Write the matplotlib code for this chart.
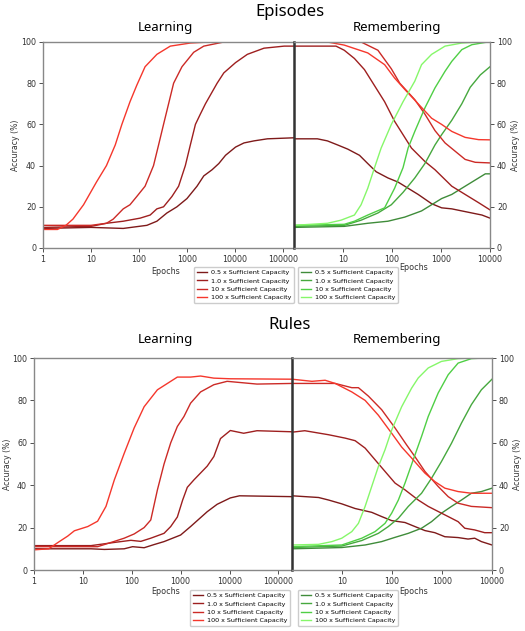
import numpy as np
import matplotlib
matplotlib.use('Agg')
from matplotlib import pyplot as plt

# capacity labels and colours
capacities = ['0.5', '1.0', '10', '100']
red_cols = ['#7e1a1a', '#9e1f1f', '#cc2a26', '#f5372c']
green_cols = ['#3f8c3a', '#46a83e', '#4fcf45', '#86f76a']

# ---- Episodes: learning (epochs, accuracy) ----
ep_learn_05 = [(1, 9.5), (10, 10), (47, 9.5), (100, 10.5), (146, 11), (236, 13), (382, 17), (618, 20),
               (1000, 24), (1620, 30), (2240, 35), (3340, 38), (4610, 41), (6360, 45), (10300, 49),
               (15400, 51), (24900, 52), (47400, 53), (170000, 53.5)]
ep_learn_10 = [(1, 10), (10, 10.5), (21, 12), (47, 13), (106, 14.5), (171, 16), (236, 19), (325, 20),
               (486, 25), (670, 30), (925, 40), (1175, 50), (1500, 60), (1900, 65), (2425, 70),
               (4250, 80), (5860, 85), (10300, 90), (18100, 94), (40300, 97), (106000, 98), (170000, 98)]
ep_learn_100x10 = [(1, 11), (10, 11), (21, 12), (29, 14), (47, 19), (65, 21), (90, 25), (134, 30),
                   (201, 40), (256, 50), (325, 60), (414, 70), (527, 80), (787, 88), (1380, 95),
                   (2240, 98), (5860, 100), (170000, 100)]
ep_learn_100 = [(1, 9), (2, 9), (3, 11), (4.2, 14), (7, 21), (13, 32), (21, 40), (32, 50), (44, 60),
                (65, 71), (90, 79), (134, 88), (236, 94), (449, 98), (1175, 99.5), (3000, 100), (170000, 100)]

# ---- Episodes: remembering, old task (red) ----
ep_rem_05 = [(1, 53), (3, 53), (4.8, 52), (7.8, 50), (12.5, 48), (21.7, 45), (32, 41), (47.6, 37),
             (82.7, 34), (133, 32), (213, 29), (342, 26), (643, 21.5), (1030, 19.5), (1660, 19),
             (2660, 18), (4270, 17), (6850, 16), (10000, 14.5)]
ep_rem_10 = [(1, 98), (7.2, 98), (10.6, 96), (17.1, 92), (27.4, 86.6), (70.7, 71), (113, 61.5),
             (250, 48.5), (469, 42), (753, 38), (1660, 30), (3110, 26), (5850, 22), (10000, 18.5)]
ep_rem_10x = [(1, 100), (23.4, 100), (51.6, 96), (96.9, 87), (144, 80), (292, 72), (469, 65),
              (753, 57), (1210, 51), (1940, 47), (3110, 43), (5000, 41.6), (10000, 41.3)]
ep_rem_100 = [(1, 100), (4.8, 100), (10.6, 98.5), (32, 94.7), (70.7, 89), (113, 82.5), (182, 77),
              (342, 70), (643, 63), (1030, 60), (1660, 56.6), (3110, 53.7), (5850, 52.6), (10000, 52.5)]

# ---- Episodes: remembering, new task (green) ----
ep_new_05 = [(1, 10), (10.6, 10.5), (32, 12), (82.7, 13), (182, 15), (401, 18), (643, 21), (1030, 24),
             (1660, 26), (2660, 29), (4270, 32), (8020, 36), (10000, 36)]
ep_new_10 = [(1, 10.5), (10.6, 11), (23.4, 13.5), (51.6, 17), (96.9, 21), (168, 27), (292, 34),
             (469, 41), (753, 50), (1030, 55), (1660, 62), (2660, 70), (3940, 78), (6330, 84), (10000, 88)]
ep_new_10x = [(1, 11), (10.6, 11.5), (17.1, 13), (32, 16), (70.7, 19.5), (113, 29), (168, 39),
              (213, 48.5), (292, 56.6), (469, 68), (753, 77.7), (1210, 85.8), (1660, 90.6),
              (2660, 96.3), (4270, 98.7), (8020, 99.8), (10000, 100)]
ep_new_100 = [(1, 11), (4.8, 12), (9.1, 13.5), (17.1, 16), (23.4, 21), (32, 29), (44, 39), (60, 48.5),
              (97, 60), (168, 71), (292, 81), (401, 89), (643, 94), (1210, 98), (2660, 99.5),
              (5850, 100), (10000, 100)]

# ---- Rules: learning ----
ru_learn_05 = [(1, 10), (14.7, 10), (27.5, 9.7), (70, 10), (104, 11), (179, 10.5), (287, 12),
               (458, 13.4), (1000, 16.5), (1600, 20.5), (3500, 27.5), (5590, 31), (10400, 34),
               (16000, 35), (190000, 34.6)]
ru_learn_10 = [(1, 11.5), (14.7, 11.5), (44, 13), (96, 14), (153, 13.5), (245, 15), (458, 17.3),
               (627, 20.5), (857, 25), (1100, 33), (1370, 39), (1870, 42.5), (3500, 49), (4780, 53.5),
               (6540, 62), (10400, 65.8), (19500, 64.5), (36500, 65.7), (190000, 65.2)]
ru_learn_10x = [(1, 11), (20, 11), (27.5, 12), (44, 13.5), (70, 15), (112, 17), (179, 20),
                (245, 23.6), (335, 37.8), (458, 50), (627, 60), (857, 67.7), (1170, 72.4),
                (1600, 78.7), (2560, 84), (4780, 87.4), (8940, 89), (36500, 87.7), (190000, 88)]
ru_learn_100 = [(1, 9.5), (2, 10), (3.1, 13), (4.9, 16), (6.7, 18.5), (12.6, 20.5), (20, 23),
                (29.7, 30), (44, 42.5), (70, 55), (112, 67), (179, 77), (335, 85), (536, 88),
                (857, 91), (1600, 91), (2560, 91.5), (4780, 90.5), (10400, 90.2), (190000, 90)]

# ---- Rules: remembering, old task (red) ----
ru_rem_05 = [(1, 35), (3.4, 34.2), (5.4, 33), (9.9, 31.2), (18.3, 29), (39.3, 27.2), (62.2, 25.2),
             (98.5, 23.3), (182, 22.4), (287, 20.5), (455, 18.6), (720, 17.6), (1140, 15.7),
             (2100, 15.3), (3320, 14.6), (4510, 15), (6130, 13.4), (10000, 11.8)]
ru_rem_10 = [(1, 65), (1.8, 65.7), (5.4, 63.8), (11.6, 62.2), (18.3, 61), (29, 57.5), (45.8, 52),
             (72.5, 46.5), (115, 41), (182, 37.8), (335, 33), (530, 30), (839, 27.6), (1330, 25.2),
             (2100, 22.8), (2850, 19.7), (4510, 18.9), (7140, 17.6), (10000, 17.6)]
ru_rem_10x = [(1, 88), (7.3, 88), (15.7, 86), (21.3, 86), (33.8, 82), (62.2, 75.6), (115, 67),
              (196, 59), (287, 53.5), (455, 46.5), (839, 39.4), (1330, 34.6), (2100, 31.5),
              (3870, 30), (10000, 29.4)]
ru_rem_100 = [(1, 90), (2.5, 89), (4.6, 89.5), (7.3, 88), (15.7, 84), (29, 80), (53.4, 73),
              (98.5, 64.5), (156, 58), (247, 52.8), (455, 45.7), (720, 41.7), (1140, 38.6),
              (2100, 37), (3870, 36.2), (10000, 36.2)]

# ---- Rules: remembering, new task (green) ----
ru_new_05 = [(1, 10), (9.9, 10.6), (29, 11.8), (62.2, 13.4), (115, 15.4), (212, 17.3), (390, 19.7),
             (618, 22.8), (977, 26.8), (1550, 30), (2450, 33), (3870, 36.2), (6130, 37), (10000, 38.6)]
ru_new_10 = [(1, 10.6), (9.9, 11.3), (24.9, 13.9), (53.4, 17.3), (84.5, 20.5), (134, 24.4),
             (212, 30), (390, 36.2), (618, 43.3), (977, 51.2), (1550, 59.8), (2450, 69.3),
             (3870, 78), (6130, 85), (10000, 90)]
ru_new_10x = [(1, 11), (9.9, 11.8), (24.9, 15), (45.8, 18.1), (72.5, 22), (98.5, 26.8), (134, 33),
              (182, 41), (266, 52), (390, 63), (530, 72.4), (839, 83.5), (1330, 92.1), (2100, 97.6),
              (3870, 99.7), (7140, 100), (10000, 100)]
ru_new_100 = [(1, 11.8), (3.4, 12.1), (6.3, 13.4), (9.9, 15), (15.7, 18.1), (21.3, 22), (29, 30),
              (39.3, 39.4), (53.4, 48.8), (72.5, 56.7), (98.5, 66), (156, 77), (247, 85.8),
              (335, 90.6), (530, 95.3), (977, 98.4), (2100, 99.7), (3870, 100), (10000, 100)]

W, H = 525, 631
fig = plt.figure(figsize=(W / 100, H / 100), dpi=100)


def px_axes(x0, y0, x1, y1):
    return fig.add_axes([x0 / W, 1 - y1 / H, (x1 - x0) / W, (y1 - y0) / H])


def draw_panel(box_l, box_r, learn, rem, new, xmax_l, title, ty, leg_y, ylab_x, epy):
    axl = px_axes(*box_l)
    axr = px_axes(*box_r)
    red_lines, green_lines = [], []
    for i, c in enumerate(capacities):
        x, y = zip(*learn[i])
        ln, = axl.plot(x, y, color=red_cols[i], lw=1.0, label=c + ' x Sufficient Capacity')
        red_lines.append(ln)
        x, y = zip(*rem[i])
        axr.plot(x, y, color=red_cols[i], lw=1.0)
        x, y = zip(*new[i])
        ln, = axr.plot(x, y, color=green_cols[i], lw=1.0, label=c + ' x Sufficient Capacity')
        green_lines.append(ln)

    for ax in (axl, axr):
        ax.set_xscale('log')
        ax.set_ylim(0, 100)
        ax.minorticks_off()
        ax.tick_params(labelsize=5.8, length=3, width=0.6, pad=2, colors='#333333')
        for s in ax.spines.values():
            s.set_color('#888888')
            s.set_linewidth(1.0)
    axl.set_xlim(1, xmax_l)
    axl.set_xticks([1, 10, 100, 1000, 10000, 100000])
    axl.set_xticklabels(['1', '10', '100', '1000', '10000', '100000'])
    axl.spines['right'].set_visible(False)
    axr.set_xlim(1, 10000)
    axr.set_xticks([10, 100, 1000, 10000])
    axr.set_xticklabels(['10', '100', '1000', '10000'])
    axr.spines['left'].set_color('#333333')
    axr.spines['left'].set_linewidth(1.8)
    axr.yaxis.tick_right()
    axl.set_yticks(range(0, 101, 20))
    axr.set_yticks(range(0, 101, 20))

    ymid = 1 - (box_l[1] + box_l[3]) / 2 / H
    fig.text(ylab_x[0] / W, ymid, 'Accuracy (%)', rotation=90,
             ha='center', va='center', fontsize=5.6, color='#333333')
    fig.text(ylab_x[1] / W, ymid, 'Accuracy (%)', rotation=90,
             ha='center', va='center', fontsize=5.6, color='#333333')

    fig.text(290 / W, 1 - ty / H, title, ha='center', va='center', fontsize=12, family='Noto Sans')
    fig.text(165 / W, 1 - (ty + 15) / H, 'Learning', ha='center', va='center', fontsize=9.5,
             family='Noto Sans')
    fig.text(397 / W, 1 - (ty + 15) / H, 'Remembering', ha='center', va='center', fontsize=9.5,
             family='Noto Sans')

    leg_kw = dict(loc='upper left', fontsize=4.6, handlelength=1.6, labelspacing=0.45,
                  borderpad=0.4, handletextpad=0.6, framealpha=1, edgecolor='#cccccc')
    fig.legend(handles=red_lines, bbox_to_anchor=(leg_y[0] / W, 1 - leg_y[1] / H), **leg_kw)
    fig.legend(handles=green_lines, bbox_to_anchor=(295 / W, 1 - leg_y[1] / H), **leg_kw)

    fig.text(166 / W, 1 - epy[0] / H, 'Epochs', ha='center', va='center', fontsize=5.8, color='#333333')
    fig.text(414 / W, 1 - epy[1] / H, 'Epochs', ha='center', va='center', fontsize=5.8, color='#333333')


draw_panel((43, 42, 294, 248), (294, 42, 490, 248),
           [ep_learn_05, ep_learn_10, ep_learn_100x10, ep_learn_100],
           [ep_rem_05, ep_rem_10, ep_rem_10x, ep_rem_100],
           [ep_new_05, ep_new_10, ep_new_10x, ep_new_100],
           170000, 'Episodes', 12, (191, 264), (15, 516), (272, 268))

draw_panel((34, 358, 292, 570), (292, 358, 492, 570),
           [ru_learn_05, ru_learn_10, ru_learn_10x, ru_learn_100],
           [ru_rem_05, ru_rem_10, ru_rem_10x, ru_rem_100],
           [ru_new_05, ru_new_10, ru_new_10x, ru_new_100],
           190000, 'Rules', 325, (187, 587), (7, 518), (591, 591))

plt.savefig('out.png', dpi=100)
